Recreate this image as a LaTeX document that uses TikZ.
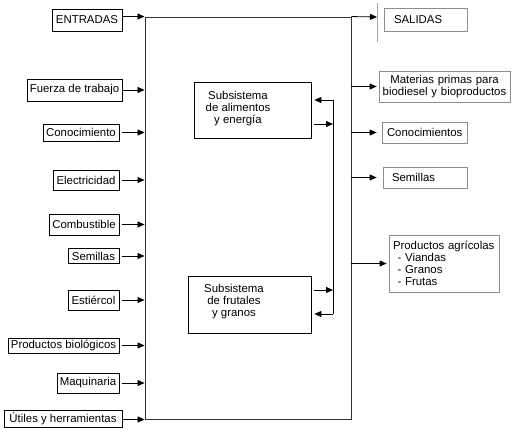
\documentclass[tikz,border=0pt]{standalone}
\usepackage{fontspec}
\setmainfont{Liberation Sans}
\usetikzlibrary{arrows.meta}
\begin{document}
\begin{tikzpicture}[x=1pt,y=-1pt,
  font=\fontsize{11.4}{12}\selectfont,
  inbox/.style={draw=black, line width=0.8pt, inner sep=0pt, align=center},
  outbox/.style={draw=black!45, line width=0.8pt, inner ysep=0pt, align=left},
  subbox/.style={draw=black, line width=0.8pt, inner sep=0pt},
  mainbox/.style={draw=black!80, line width=0.9pt, inner sep=0pt},
  arr/.style={-{Triangle[length=7pt,width=6pt]}, line width=0.8pt},
  ln/.style={line width=0.8pt}]
\useasboundingbox (0,0) rectangle (516,434);

% main box
\node[mainbox, minimum width=206, minimum height=402] (main) at (248,218) {};

% inputs
\node[inbox, minimum width=70, minimum height=22] (ent) at (87,20) {ENTRADAS};
\node[inbox, minimum width=95, minimum height=22] (fue) at (74.5,90) {Fuerza de trabajo};
\node[inbox, minimum width=76, minimum height=17] (con) at (81,132.5) {Conocimiento};
\node[inbox, minimum width=66, minimum height=20] (ele) at (86,180) {Electricidad};
\node[inbox, minimum width=70, minimum height=21] (com) at (84,224.5) {Combustible};
\node[inbox, minimum width=51, minimum height=15] (sem) at (93.5,256) {Semillas};
\node[inbox, minimum width=51, minimum height=20] (est) at (93.5,300) {Estiércol};
\node[inbox, minimum width=111, minimum height=15] (pro) at (63.5,345.5) {Productos biológicos};
\node[inbox, minimum width=62, minimum height=20] (maq) at (88,383) {Maquinaria};
\node[inbox, minimum width=118, minimum height=17] (uti) at (63,418.5) {Útiles y herramientas};

\draw[arr] (ent.east |- main.north west) -- (main.north west);
\draw[arr] (fue.east) -- (fue.east -| main.west);
\draw[arr, shorten <=3pt] (con.east) -- (con.east -| main.west);
\draw[arr, shorten <=3pt] (ele.east) -- (ele.east -| main.west);
\draw[arr, shorten <=3pt] (com.east) -- (com.east -| main.west);
\draw[arr, shorten <=3pt] (sem.east) -- (sem.east -| main.west);
\draw[arr, shorten <=3pt] (est.east) -- (est.east -| main.west);
\draw[arr, shorten <=3pt] (pro.east) -- (pro.east -| main.west);
\draw[arr, shorten <=3pt] (maq.east) -- (maq.east -| main.west);
\draw[arr] (uti.east |- main.south west) -- (main.south west);

% subsystems
\node[subbox, minimum width=117, minimum height=56] (s1) at (252.5,110) {};
\node[align=center, inner sep=0pt] (s1t) at (238,109) {Subsistema\\de alimentos\\y energía};
\node[subbox, minimum width=123, minimum height=57] (s2) at (249.5,304.5) {};
\node[align=center, inner sep=0pt] (s2t) at (234,302) {Subsistema\\de frutales\\y granos};

% feedback loop
\coordinate (fbT) at (333,100);
\coordinate (fbA) at (333,124);
\coordinate (fbC) at (333,290);
\coordinate (fbB) at (333,314);
\draw[ln] (fbT) -- (fbB);
\draw[arr, shorten >=3pt] (fbT) -- (s1.east |- fbT);
\draw[arr, shorten <=3pt] (s1.east |- fbA) -- (fbA);
\draw[arr, shorten <=3pt] (s2.east |- fbC) -- (fbC);
\draw[arr, shorten >=3pt] (fbB) -- (s2.east |- fbB);

% outputs
\node[outbox, inner xsep=10pt, text width=63pt, minimum height=23] (sal) at (425.5,19.5) {SALIDAS};
\node[outbox, inner xsep=1pt, text width=129pt, align=center, minimum height=31] (mat) at (444.5,86.5) {Materias primas para\\biodiesel y bioproductos};
\node[outbox, inner xsep=5pt, text width=75pt, minimum height=21] (cok) at (424.5,132.5) {Conocimientos};
\node[outbox, inner xsep=5pt, text width=66pt, minimum height=21, inner xsep=9pt] (sms) at (425,177.5) {Semillas};
\node[outbox, inner xsep=4pt, text width=102pt, minimum height=57] (pag) at (444,263.5) {\mbox{Productos agrícolas}\\\hspace*{4.5pt}- Viandas\\\hspace*{4.5pt}- Granos\\\hspace*{4.5pt}- Frutas};

\coordinate (salT) at (377,17);
\draw[arr] (main.north east) -- (salT);
\draw[black!35, line width=0.5pt] (377,3) -- (377,42);
\draw[arr, shorten >=2pt] (main.east |- mat.west) -- (mat.west);
\draw[arr, shorten >=5pt] (main.east |- cok.west) -- (cok.west);
\draw[arr, shorten >=6pt] (main.east |- sms.west) -- (sms.west);
\draw[arr, shorten >=2pt] (main.east |- pag.west) -- (pag.west);
\end{tikzpicture}
\end{document}
